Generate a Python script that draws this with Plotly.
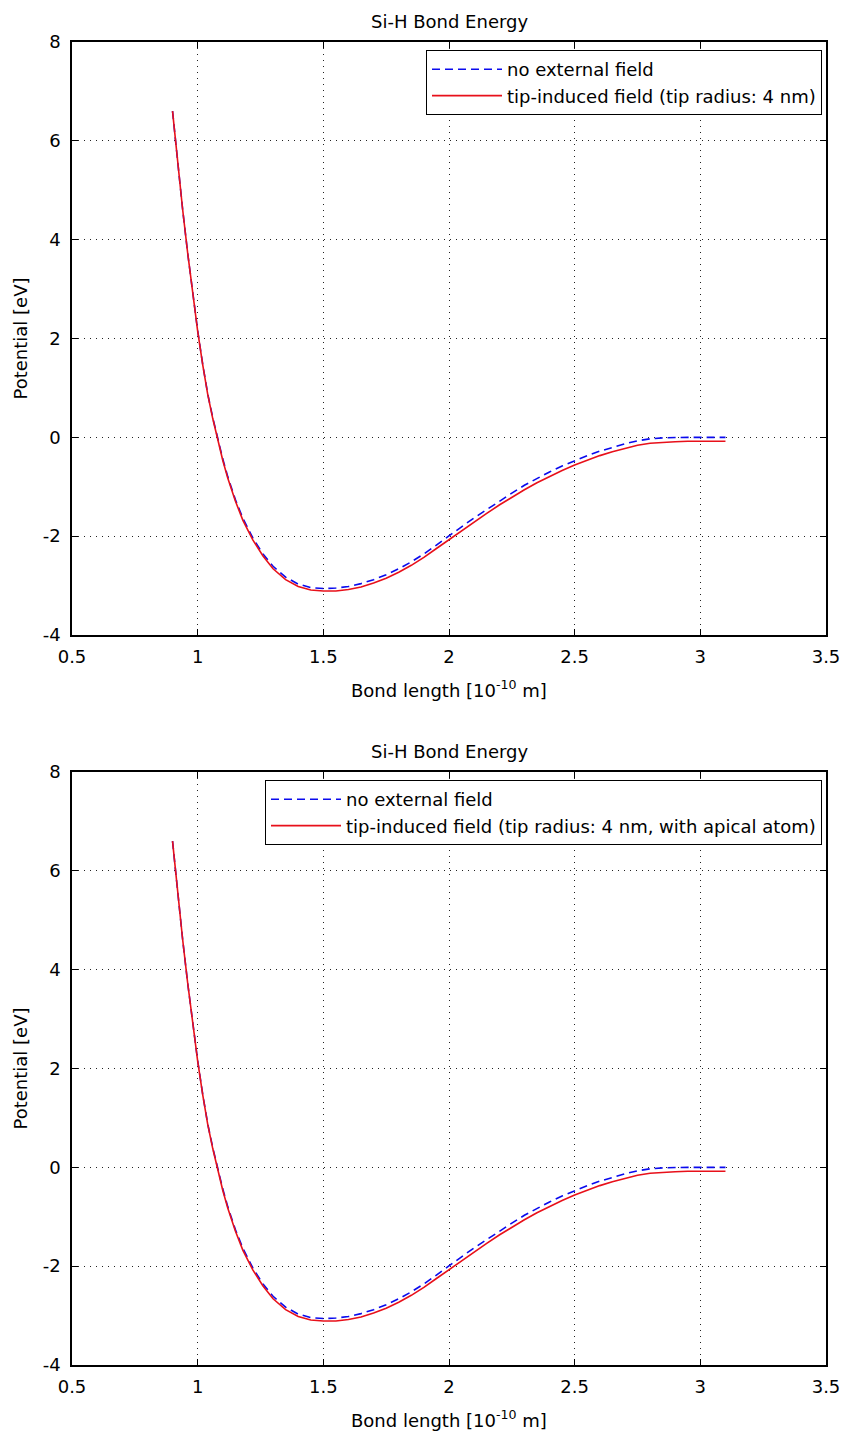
import plotly.graph_objects as go

# ---- data ----
bond_length = [0.90, 0.92, 0.94, 0.96, 0.98, 1.00, 1.02, 1.04, 1.06, 1.08, 1.10, 1.12,
               1.15, 1.18, 1.22, 1.26, 1.30, 1.35, 1.40, 1.45, 1.50, 1.55,
               1.60, 1.65, 1.70, 1.75, 1.80, 1.85, 1.90, 1.95, 2.00, 2.05, 2.10, 2.15,
               2.20, 2.25, 2.30, 2.35, 2.40, 2.45, 2.50, 2.55, 2.60, 2.65, 2.70, 2.75,
               2.80, 2.85, 2.90, 2.95, 3.00, 3.05, 3.10]

no_field = [6.60, 5.58, 4.62, 3.74, 2.92, 2.16, 1.48, 0.88, 0.40, -0.04, -0.44, -0.80,
            -1.26, -1.64, -2.04, -2.36, -2.61, -2.83, -2.97, -3.04, -3.06, -3.05,
            -3.02, -2.96, -2.88, -2.78, -2.66, -2.52, -2.36, -2.18, -1.99, -1.81, -1.63, -1.46,
            -1.29, -1.13, -0.97, -0.83, -0.70, -0.58, -0.47, -0.37, -0.28, -0.20, -0.13, -0.07,
            -0.03, -0.01, 0.0, 0.0, 0.0, 0.0, 0.0]

tip_field = [6.60, 5.58, 4.62, 3.74, 2.92, 2.15, 1.47, 0.87, 0.38, -0.06, -0.47, -0.83,
             -1.29, -1.68, -2.08, -2.40, -2.66, -2.88, -3.02, -3.09, -3.11, -3.11,
             -3.08, -3.03, -2.95, -2.85, -2.73, -2.59, -2.43, -2.25, -2.07, -1.89, -1.71, -1.54,
             -1.37, -1.21, -1.06, -0.92, -0.79, -0.67, -0.56, -0.46, -0.37, -0.29, -0.22, -0.16,
             -0.12, -0.10, -0.09, -0.08, -0.08, -0.08, -0.08]

tip_field_apical = [6.60, 5.58, 4.62, 3.74, 2.92, 2.15, 1.47, 0.87, 0.38, -0.06, -0.47, -0.83,
                    -1.29, -1.68, -2.08, -2.40, -2.66, -2.88, -3.02, -3.09, -3.11, -3.11,
                    -3.08, -3.03, -2.95, -2.85, -2.73, -2.59, -2.43, -2.25, -2.07, -1.89, -1.71, -1.54,
                    -1.37, -1.21, -1.06, -0.92, -0.79, -0.67, -0.56, -0.46, -0.37, -0.29, -0.22, -0.16,
                    -0.12, -0.10, -0.09, -0.08, -0.08, -0.08, -0.08]

x_ticks = [0.5, 1, 1.5, 2, 2.5, 3, 3.5]
y_ticks = [-4, -2, 0, 2, 4, 6, 8]

title_text = "Si-H Bond Energy"
x_title = "Bond length [10<sup>-10</sup> m]"
y_title = "Potential [eV]"
label_blue = "no external field"
label_red_top = "tip-induced field (tip radius: 4 nm)"
label_red_bottom = "tip-induced field (tip radius: 4 nm, with apical atom)"

W, H = 844, 1439
FONT = "DejaVu Sans"
FS = 18

fig = go.Figure()

# plot area pixel boxes (left, right, top, bottom)
boxes = [(72, 826, 42, 635), (72, 826, 772, 1365)]
reds = [(tip_field, label_red_top), (tip_field_apical, label_red_bottom)]

for i, ((l, r, t, b), (red_y, red_label)) in enumerate(zip(boxes, reds)):
    sfx = "" if i == 0 else "2"
    leg = "legend" if i == 0 else "legend2"
    fig.add_trace(go.Scatter(x=bond_length, y=no_field, mode="lines", name=label_blue,
                             line=dict(color="#0a0aee", width=1.6, dash="8px,5px"),
                             xaxis="x" + sfx, yaxis="y" + sfx, legend=leg))
    fig.add_trace(go.Scatter(x=bond_length, y=red_y, mode="lines", name=red_label,
                             line=dict(color="#e8101a", width=1.6),
                             xaxis="x" + sfx, yaxis="y" + sfx, legend=leg))
    axis_common = dict(showline=True, linecolor="black", linewidth=1.5, mirror="ticks",
                       ticks="inside", ticklen=6, tickcolor="black", tickwidth=1,
                       showgrid=True, gridcolor="#222", gridwidth=1, griddash="1px,5px",
                       zeroline=False, automargin=False,
                       tickfont=dict(family=FONT, size=FS, color="black"))
    fig.update_layout(**{
        "xaxis" + sfx: dict(axis_common, domain=[l / W, r / W], range=[0.5, 3.5],
                            tickvals=x_ticks, ticktext=[f"{v:g}" for v in x_ticks],
                            anchor="y" + sfx, ticklabelstandoff=5),
        "yaxis" + sfx: dict(axis_common, domain=[1 - b / H, 1 - t / H], range=[-4, 8],
                            tickvals=y_ticks, ticktext=[f"{v:g}" for v in y_ticks],
                            anchor="x" + sfx, ticklabelstandoff=6),
    })
    # titles
    fig.add_annotation(text=title_text, x=(l + r) / 2 / W, y=1 - (t - 21) / H,
                       xref="paper", yref="paper", showarrow=False,
                       xanchor="center", yanchor="middle",
                       font=dict(family=FONT, size=FS, color="black"))
    fig.add_annotation(text=x_title, x=(l + r) / 2 / W, y=1 - (b + 54) / H,
                       xref="paper", yref="paper", showarrow=False,
                       xanchor="center", yanchor="middle",
                       font=dict(family=FONT, size=FS, color="black"))
    fig.add_annotation(text=y_title, x=20 / W, y=1 - (t + b) / 2 / H,
                       xref="paper", yref="paper", showarrow=False, textangle=-90,
                       xanchor="center", yanchor="middle",
                       font=dict(family=FONT, size=FS, color="black"))
    fig.update_layout(**{leg: dict(x=822 / W, y=1 - (t + 8) / H, xanchor="right", yanchor="top",
                                   bgcolor="white", bordercolor="black", borderwidth=1,
                                   itemwidth=70, tracegroupgap=0,
                                   font=dict(family=FONT, size=FS, color="black"))})

fig.update_layout(width=W, height=H, margin=dict(l=0, r=0, t=0, b=0),
                  paper_bgcolor="white", plot_bgcolor="white", showlegend=True)

fig.write_html("out.html")
